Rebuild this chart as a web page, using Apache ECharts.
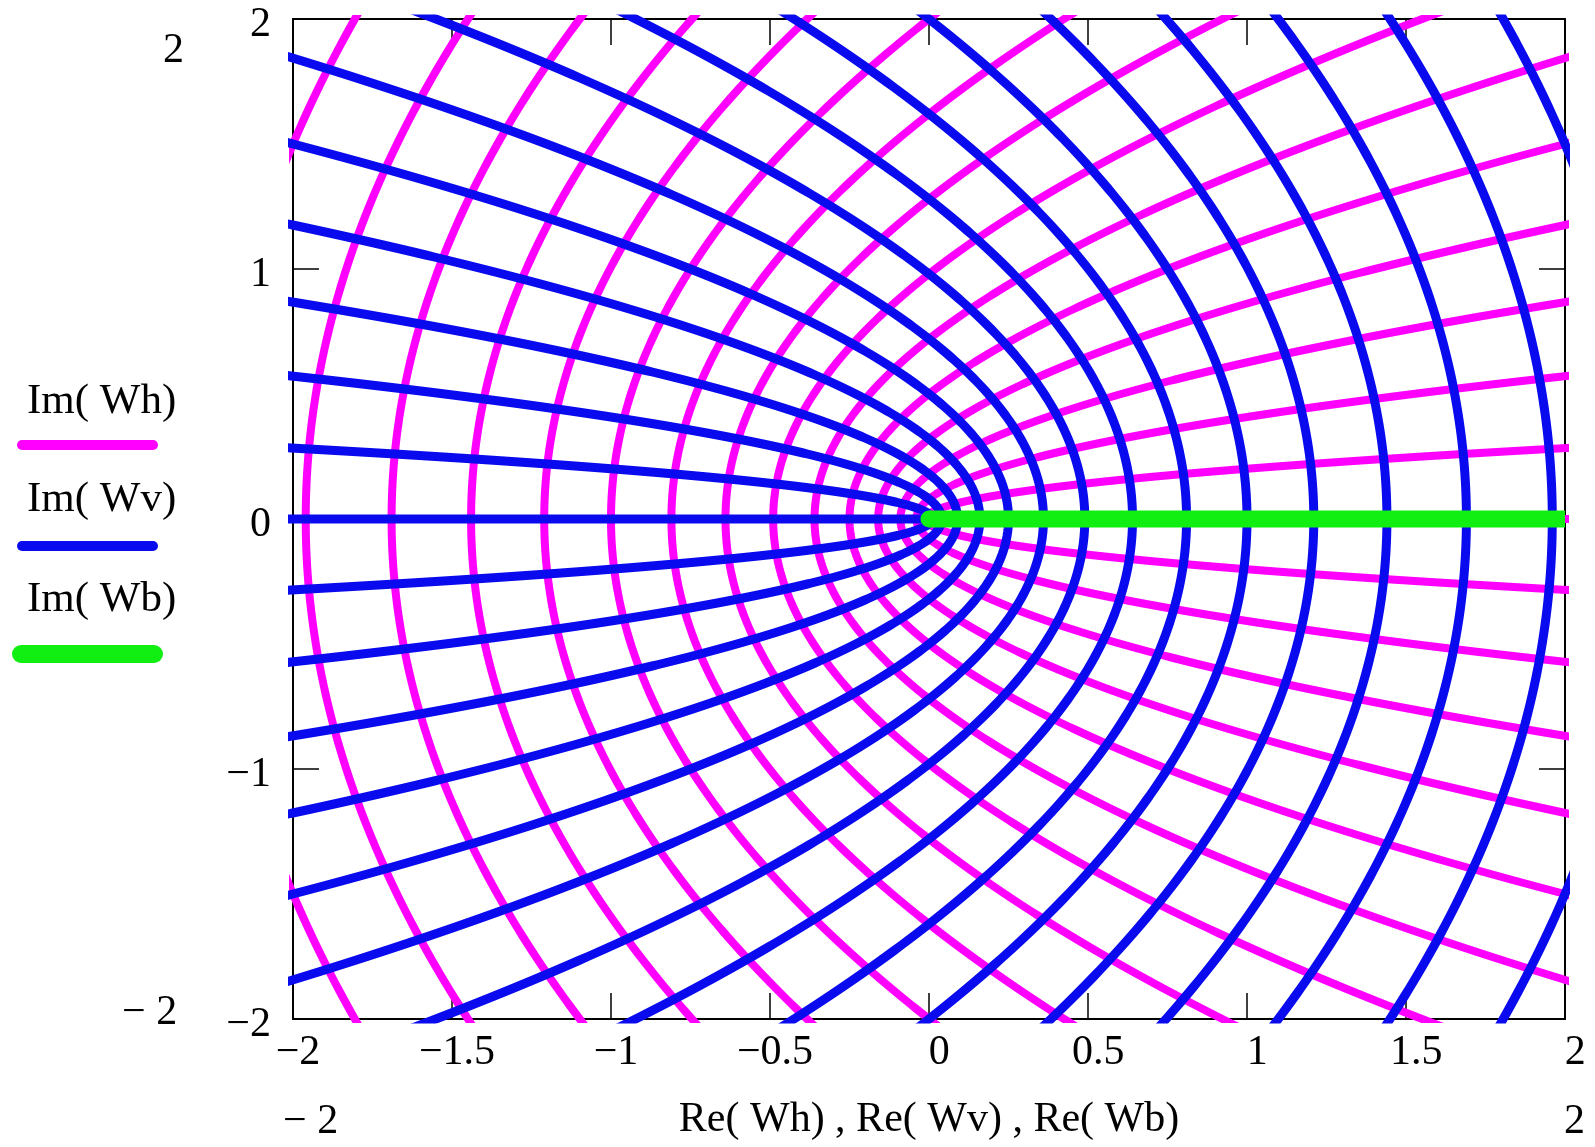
<!DOCTYPE html>
<html>
<head>
<meta charset="utf-8">
<script src="https://cdn.jsdelivr.net/npm/echarts@6/dist/echarts.min.js"></script>
<style>
html,body{margin:0;padding:0;background:#ffffff;}
#chart{width:1595px;height:1147px;}
</style>
</head>
<body>
<div id="chart"></div>
<script>
// ---- data ----
// tick values of the axes
const xTickValues = [-2, -1.5, -1, -0.5, 0, 0.5, 1, 1.5, 2];
const yTickValues = [-2, -1, 0, 1, 2];
// levels of the horizontal grid lines Im(z)=c whose images are Wh (magenta);
// each curve crosses the real axis at -c^2 (read: -0.01 ... -1.96, -2.25)
const whLevels = [0, 0.1, 0.2, 0.3, 0.4, 0.5, 0.6, 0.7, 0.8, 0.9, 1.0, 1.1, 1.2, 1.3, 1.4, 1.5];
// levels of the vertical grid lines Re(z)=c whose images are Wv (blue);
// each curve crosses the real axis at +c^2 (read: 0.01 ... 1.96, 2.25)
const wvLevels = [0, 0.1, 0.2, 0.3, 0.4, 0.5, 0.6, 0.7, 0.8, 0.9, 1.0, 1.1, 1.2, 1.3, 1.4, 1.5];
// parameter range along each grid line, and its sampling step
const paramStart = -2;
const paramEnd = 2;
const paramStep = 0.01;
// Wb: image of the branch segment, along the positive real axis
const wbRe = [0, 2];
const wbIm = [0, 0];

// ---- build ----
const FONT = 'Liberation Serif';
const MAGENTA = '#ff00ff';
const BLUE = '#0a0aee';
const GREEN = '#11ee11';

const params = [];
for (let i = 0; Math.round(i) <= Math.round((paramEnd - paramStart) / paramStep); i++) {
  params.push(paramStart + i * paramStep);
}

const series = [];
whLevels.forEach(function (c) {
  series.push({
    name: 'Im( Wh)', type: 'line', showSymbol: false, symbol: 'none', clip: true,
    data: params.map(function (t) { return [t * t - c * c, 2 * t * c]; }),
    lineStyle: { color: MAGENTA, width: 8, cap: 'butt', join: 'round' },
    z: 2, silent: true
  });
});
wvLevels.forEach(function (c) {
  series.push({
    name: 'Im( Wv)', type: 'line', showSymbol: false, symbol: 'none', clip: true,
    data: params.map(function (t) { return [c * c - t * t, 2 * c * t]; }),
    lineStyle: { color: BLUE, width: 9, cap: 'butt', join: 'round' },
    z: 3, silent: true
  });
});
series.push({
  name: 'Im( Wb)', type: 'line', showSymbol: true, symbol: 'none', clip: true,
  data: wbRe.map(function (r, i) {
    if (i === 0) {
      return { value: [r, wbIm[i]], symbol: 'circle', symbolSize: 17, itemStyle: { color: GREEN, borderWidth: 0 } };
    }
    return { value: [r, wbIm[i]], symbol: 'none' };
  }),
  itemStyle: { color: GREEN },
  lineStyle: { color: GREEN, width: 17, cap: 'butt' },
  z: 4, silent: true
});

function fmt(v) {
  if (v < 0) return '\u2212' + String(-v);
  return ' ' + String(v);
}
function fmtY(v) {
  if (v < 0) return '\u2212' + String(-v);
  return String(v);
}

const axisLineStyle = { color: '#000', width: 2 };
const tickStyle = { color: '#000', width: 1.5 };

const option = {
  backgroundColor: '#ffffff',
  animation: false,
  grid: { left: 293, right: 30, top: 19, bottom: 128, containLabel: false },
  xAxis: [
    {
      type: 'value', position: 'bottom',
      min: xTickValues[0], max: xTickValues[xTickValues.length - 1], interval: 0.5,
      axisLine: { show: true, onZero: false, lineStyle: axisLineStyle },
      axisTick: { show: true, inside: true, length: 26, lineStyle: tickStyle },
      splitLine: { show: false },
      axisLabel: {
        show: true, margin: 13, formatter: fmt,
        fontFamily: FONT, fontSize: 42, color: '#000', padding: [0, 0, 0, 10]
      }
    },
    {
      type: 'value', position: 'top',
      min: xTickValues[0], max: xTickValues[xTickValues.length - 1], interval: 0.5,
      axisLine: { show: true, onZero: false, lineStyle: axisLineStyle },
      axisTick: { show: true, inside: true, length: 26, lineStyle: tickStyle },
      splitLine: { show: false },
      axisLabel: { show: false }
    }
  ],
  yAxis: [
    {
      type: 'value', position: 'left',
      min: yTickValues[0], max: yTickValues[yTickValues.length - 1], interval: 1,
      axisLine: { show: true, onZero: false, lineStyle: axisLineStyle },
      axisTick: { show: true, inside: true, length: 26, lineStyle: tickStyle },
      splitLine: { show: false },
      axisLabel: {
        show: true, margin: 22, formatter: fmtY,
        fontFamily: FONT, fontSize: 42, color: '#000',
        verticalAlign: 'top', lineHeight: 12
      }
    },
    {
      type: 'value', position: 'right',
      min: yTickValues[0], max: yTickValues[yTickValues.length - 1], interval: 1,
      axisLine: { show: true, onZero: false, lineStyle: axisLineStyle },
      axisTick: { show: true, inside: true, length: 26, lineStyle: tickStyle },
      splitLine: { show: false },
      axisLabel: { show: false }
    }
  ],
  graphic: [
    // axis limit labels (Mathcad style)
    { type: 'text', left: 163, top: 30, style: { text: '2', font: '42px "Liberation Serif"', fill: '#000' } },
    { type: 'text', left: 122, top: 992, style: { text: '\u2212 2', font: '42px "Liberation Serif"', fill: '#000' } },
    { type: 'text', left: 283, top: 1101, style: { text: '\u2212 2', font: '42px "Liberation Serif"', fill: '#000' } },
    { type: 'text', left: 1564, top: 1101, style: { text: '2', font: '42px "Liberation Serif"', fill: '#000' } },
    // x axis title
    { type: 'text', x: 929, y: 1120, style: { text: 'Re( Wh) , Re( Wv) , Re( Wb)', font: '42px "Liberation Serif"', fill: '#000', align: 'center', verticalAlign: 'middle' } },
    // legend
    { type: 'text', left: 27, top: 380, style: { text: 'Im( Wh)', font: '43px "Liberation Serif"', fill: '#000' } },
    { type: 'line', shape: { x1: 22, y1: 445, x2: 153, y2: 445 }, style: { stroke: MAGENTA, lineWidth: 10, lineCap: 'round' } },
    { type: 'text', left: 27, top: 478, style: { text: 'Im( Wv)', font: '43px "Liberation Serif"', fill: '#000' } },
    { type: 'line', shape: { x1: 22, y1: 546, x2: 153, y2: 546 }, style: { stroke: BLUE, lineWidth: 10, lineCap: 'round' } },
    { type: 'text', left: 27, top: 578, style: { text: 'Im( Wb)', font: '43px "Liberation Serif"', fill: '#000' } },
    { type: 'line', shape: { x1: 21, y1: 654, x2: 154, y2: 654 }, style: { stroke: GREEN, lineWidth: 18, lineCap: 'round' } }
  ],
  series: series
};

const chart = echarts.init(document.getElementById('chart'), null, { renderer: 'canvas' });
chart.setOption(option);
</script>
</body>
</html>
